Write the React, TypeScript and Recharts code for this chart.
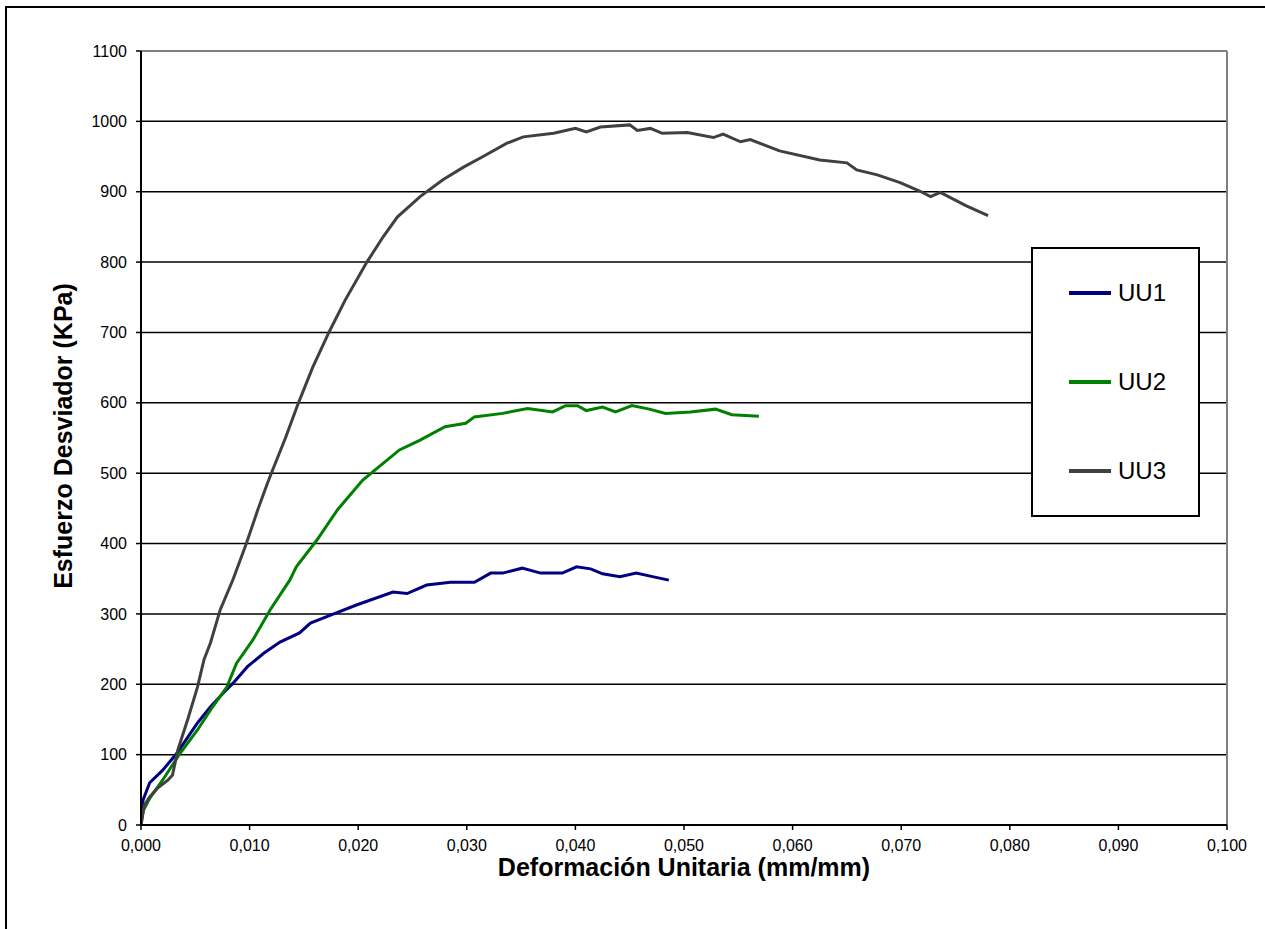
import {
  CartesianGrid,
  Label,
  Legend,
  Line,
  LineChart,
  ReferenceLine,
  XAxis,
  YAxis,
} from "recharts";

const uu1Strain = [0, 0.0002, 0.0008, 0.002, 0.0033, 0.0052, 0.0064, 0.0076, 0.0085, 0.0098, 0.0113, 0.0128, 0.0146, 0.0156, 0.0174, 0.0199, 0.0232, 0.0245, 0.0263, 0.0285, 0.0307, 0.0322, 0.0333, 0.0351, 0.0368, 0.0388, 0.0401, 0.0414, 0.0425, 0.0441, 0.0456, 0.0471, 0.0486];
const uu1Stress = [12, 36, 60, 78, 102, 145, 168, 188, 202, 225, 244, 260, 273, 287, 298, 313, 331, 329, 341, 345, 345, 358, 358, 365, 358, 358, 367, 364, 357, 353, 358, 353, 348];

const uu2Strain = [0, 0.0002, 0.0008, 0.002, 0.0036, 0.0052, 0.0066, 0.0079, 0.0088, 0.0103, 0.0119, 0.0137, 0.0143, 0.0162, 0.0181, 0.0204, 0.0219, 0.0238, 0.0257, 0.028, 0.0299, 0.0307, 0.0333, 0.0356, 0.0379, 0.0391, 0.0402, 0.041, 0.0425, 0.0437, 0.0452, 0.0468, 0.0483, 0.0506, 0.0529, 0.0544, 0.0569];
const uu2Stress = [0, 20, 38, 64, 102, 135, 168, 196, 230, 263, 306, 348, 367, 405, 448, 490, 509, 533, 547, 566, 571, 580, 585, 592, 587, 596, 596, 589, 594, 587, 596, 591, 585, 587, 591, 583, 581];

const uu3Strain = [0, 0.0003, 0.0008, 0.0015, 0.0025, 0.0029, 0.0034, 0.0043, 0.0052, 0.0058, 0.0064, 0.0073, 0.0085, 0.0097, 0.0108, 0.0116, 0.012, 0.0133, 0.0145, 0.0158, 0.0173, 0.0188, 0.0208, 0.0223, 0.0236, 0.0257, 0.0278, 0.0297, 0.0315, 0.0337, 0.0352, 0.038, 0.04, 0.041, 0.0423, 0.045, 0.0457, 0.0469, 0.048, 0.0503, 0.0527, 0.0536, 0.0552, 0.0561, 0.0588, 0.0625, 0.065, 0.0659, 0.0678, 0.0699, 0.0717, 0.0727, 0.0736, 0.076, 0.078];
const uu3Stress = [0, 28, 40, 52, 64, 71, 107, 150, 196, 235, 259, 306, 350, 400, 450, 484, 500, 550, 600, 650, 700, 746, 800, 836, 864, 893, 917, 935, 950, 969, 978, 983, 990, 985, 992, 995, 987, 990, 983, 984, 977, 982, 971, 974, 958, 945, 941, 931, 924, 913, 901, 893, 899, 880, 866];

const seriesNames = ["UU1", "UU2", "UU3"];
const seriesColors = ["#000080", "#008000", "#404040"];

const xTicks = [0, 0.01, 0.02, 0.03, 0.04, 0.05, 0.06, 0.07, 0.08, 0.09, 0.1];
const yTicks = [0, 100, 200, 300, 400, 500, 600, 700, 800, 900, 1000, 1100];

const FONT = "'Liberation Sans', Arial, sans-serif";

const toPoints = (xs: number[], ys: number[]) => xs.map((x, i) => ({ x, y: ys[i] }));

const series = [
  toPoints(uu1Strain, uu1Stress),
  toPoints(uu2Strain, uu2Stress),
  toPoints(uu3Strain, uu3Stress),
];

function LegendBox(props: any) {
  const payload = props.payload || [];
  return (
    <div
      style={{
        width: 169,
        height: 270,
        border: "2px solid #000",
        boxSizing: "border-box",
        background: "#fff",
        position: "relative",
      }}
    >
      {payload.map((item: any, i: number) => (
        <div
          key={item.value}
          style={{
            position: "absolute",
            left: 36,
            top: 44 + i * 89 - 15,
            height: 30,
            display: "flex",
            alignItems: "center",
          }}
        >
          <span style={{ display: "inline-block", width: 42, height: 4, background: item.color, marginRight: 7 }} />
          <span style={{ fontFamily: FONT, fontSize: 24, color: "#000" }}>{item.value}</span>
        </div>
      ))}
    </div>
  );
}

function YTitle(props: any) {
  const vb = props.viewBox;
  const x = vb.x + vb.width - 69;
  const y = vb.y + vb.height / 2 - 2;
  return (
    <text
      x={0}
      y={0}
      transform={`translate(${x}, ${y}) rotate(-90)`}
      textAnchor="middle"
      fontFamily={FONT}
      fontWeight="bold"
      fontSize={25}
      fill="#000"
    >
      Esfuerzo Desviador (KPa)
    </text>
  );
}

export default function App() {
  const tick = { fill: "#000", fontSize: 16, fontFamily: FONT };
  return (
    <div style={{ position: "absolute", left: 0, top: 0, width: 1265, height: 929, overflow: "hidden", background: "#fff" }}>
      <div
        style={{
          position: "absolute",
          left: 5,
          top: 6,
          width: 1300,
          height: 1000,
          border: "2px solid #000",
        }}
      />
      <div style={{ position: "absolute", left: 0, top: 0 }}>
        <LineChart width={1265} height={929} margin={{ top: 51, right: 38, left: 41, bottom: 74 }}>
          <CartesianGrid vertical={false} stroke="#000" strokeWidth={1.5} />
          <XAxis
            type="number"
            dataKey="x"
            domain={[0, 0.1]}
            ticks={xTicks}
            allowDataOverflow
            height={30}
            tick={tick}
            tickSize={5}
            tickMargin={10}
            tickLine={{ stroke: "#000", strokeWidth: 1.5 }}
            axisLine={{ stroke: "#000", strokeWidth: 2 }}
            tickFormatter={(v: number) => v.toFixed(3).replace(".", ",")}
          >
            <Label
              value="Deformación Unitaria (mm/mm)"
              position="bottom"
              offset={3}
              style={{ fontFamily: FONT, fontWeight: "bold", fontSize: 25, fill: "#000" }}
            />
          </XAxis>
          <YAxis
            type="number"
            domain={[0, 1100]}
            ticks={yTicks}
            width={100}
            tick={tick}
            tickSize={5}
            tickMargin={9}
            tickLine={{ stroke: "#000", strokeWidth: 1.5 }}
            axisLine={{ stroke: "#000", strokeWidth: 2 }}
          >
            <Label content={YTitle} />
          </YAxis>
          <ReferenceLine y={1100} stroke="#808080" strokeWidth={2} />
          <ReferenceLine x={0.1} stroke="#808080" strokeWidth={2} />
          {series.map((data, i) => (
            <Line
              key={seriesNames[i]}
              data={data}
              dataKey="y"
              name={seriesNames[i]}
              type="linear"
              stroke={seriesColors[i]}
              strokeWidth={3}
              dot={false}
              activeDot={false}
              isAnimationActive={false}
            />
          ))}
          <Legend
            layout="vertical"
            align="center"
            verticalAlign="middle"
            content={LegendBox}
            wrapperStyle={{ left: 1031, top: 247, width: 169, height: 270 }}
          />
        </LineChart>
      </div>
    </div>
  );
}
